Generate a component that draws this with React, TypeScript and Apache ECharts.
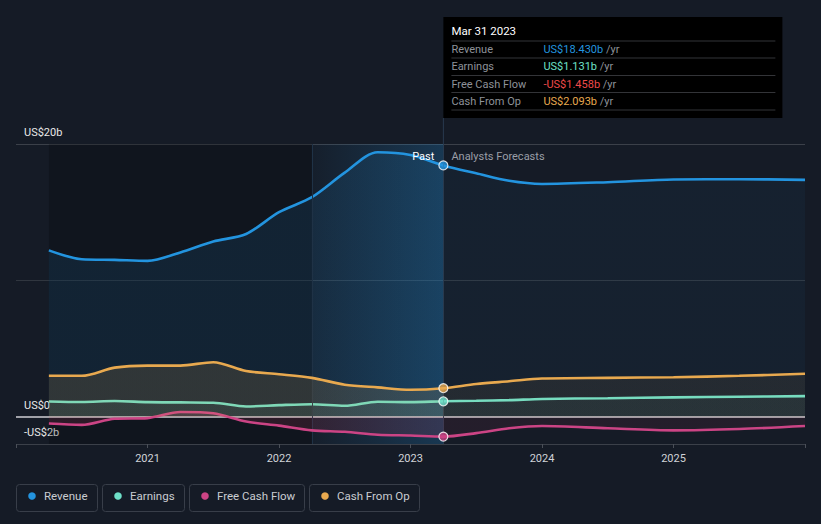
import React, { useEffect, useRef } from "react";
import * as echarts from "echarts";

const seriesNames = ["Revenue", "Earnings", "Free Cash Flow", "Cash From Op"];
const seriesColors = ["#2394df", "#6ee0c8", "#cc4485", "#e8a94f"];
const valueColors = ["#2394df", "#6ee0c8", "#ee4a4a", "#e8a94f"];

const pastDates = [2020.25, 2020.5, 2020.75, 2021.0, 2021.25, 2021.5, 2021.75, 2022.0, 2022.25, 2022.5, 2022.75, 2023.0, 2023.25];
const forecastDates = [2023.5, 2023.75, 2024.0, 2024.5, 2025.0, 2025.5, 2026.0];

const revenuePast = [12.2, 11.55, 11.5, 11.43, 12.05, 12.85, 13.4, 15.0, 16.1, 17.9, 19.4, 19.2, 18.43];
const revenueForecast = [17.85, 17.3, 17.07, 17.2, 17.4, 17.42, 17.37];
const earningsPast = [1.12, 1.08, 1.15, 1.07, 1.05, 1.03, 0.75, 0.85, 0.92, 0.8, 1.1, 1.07, 1.131];
const earningsForecast = [1.17, 1.22, 1.3, 1.36, 1.42, 1.47, 1.51];
const fcfPast = [-0.5, -0.6, -0.15, -0.1, 0.35, 0.25, -0.35, -0.65, -1.0, -1.1, -1.32, -1.38, -1.458];
const fcfForecast = [-1.2, -0.85, -0.68, -0.85, -1.0, -0.9, -0.68];
const cfoPast = [3.0, 3.0, 3.6, 3.75, 3.75, 4.0, 3.35, 3.12, 2.85, 2.35, 2.15, 1.98, 2.093];
const cfoForecast = [2.4, 2.6, 2.8, 2.85, 2.9, 3.0, 3.15];

const yTickLabels: Record<string, string> = { "20": "US$20b", "0": "US$0", "-2": "-US$2b" };
const xYears = [2021, 2022, 2023, 2024, 2025];
const nowLabel = "Mar 31 2023";
const highlightStart = 2022.25;

const pastSets = [revenuePast, earningsPast, fcfPast, cfoPast];
const forecastSets = [revenueForecast, earningsForecast, fcfForecast, cfoForecast];

function fmt(v: number) {
  return (v < 0 ? "-" : "") + "US$" + Math.abs(v).toFixed(3) + "b";
}

function hexA(hex: string, a: number) {
  const r = parseInt(hex.slice(1, 3), 16);
  const g = parseInt(hex.slice(3, 5), 16);
  const b = parseInt(hex.slice(5, 7), 16);
  return `rgba(${r},${g},${b},${a})`;
}

export default function App() {
  const ref = useRef<HTMLDivElement>(null);
  useEffect(() => {
    document.body.style.margin = "0";
    const chart = echarts.init(ref.current!, null, { renderer: "svg" });
    const nowT = pastDates[pastDates.length - 1];
    const allDates = pastDates.concat(forecastDates);
    const firstT = pastDates[0];
    const lastT = forecastDates[forecastDates.length - 1];
    const split = (nowT - firstT) / (lastT - firstT);

    const areaAlphas = [
      [0.16, 0.07],
      [0.1, 0.07],
      [0.22, 0.12],
      [0.2, 0.1],
    ];
    const areaBase = ["#2394df", "#6ee0c8", "#c8385f", "#e8a94f"];

    const splitColors = [
      "#3b4049", "rgba(0,0,0,0)", "rgba(0,0,0,0)", "rgba(0,0,0,0)", "rgba(0,0,0,0)", "rgba(0,0,0,0)",
      "#30363f", "rgba(0,0,0,0)", "rgba(0,0,0,0)", "rgba(0,0,0,0)", "rgba(0,0,0,0)", "#3b4049",
    ];

    const lineSeries: any[] = seriesNames.map((name, si) => {
      const vals = pastSets[si].concat(forecastSets[si]);
      const [pa, fa] = areaAlphas[si];
      const s: any = {
        name,
        type: "line",
        data: allDates.map((d, i) => [d, vals[i]]),
        smooth: 0.3,
        symbol: "none",
        lineStyle: { color: seriesColors[si], width: 2.6 },
        itemStyle: { color: seriesColors[si] },
        areaStyle: {
          origin: 0,
          color: new echarts.graphic.LinearGradient(0, 0, 1, 0, [
            { offset: 0, color: hexA(areaBase[si], pa) },
            { offset: split, color: hexA(areaBase[si], pa) },
            { offset: Math.min(split + 0.001, 1), color: hexA(areaBase[si], fa) },
            { offset: 1, color: hexA(areaBase[si], fa) },
          ]),
        },
        z: 3 + si,
      };
      if (si === 0) {
        s.markArea = {
          silent: true,
          data: [
            [{ xAxis: firstT, itemStyle: { color: "rgba(0,0,0,0.2)" } }, { xAxis: highlightStart }],
            [
              {
                xAxis: highlightStart,
                itemStyle: {
                  color: new echarts.graphic.LinearGradient(0, 0, 1, 0, [
                    { offset: 0, color: "rgba(35,148,223,0.03)" },
                    { offset: 1, color: "rgba(35,148,223,0.24)" },
                  ]),
                },
              },
              { xAxis: nowT },
            ],
          ],
        };
        s.markLine = {
          silent: true,
          symbol: ["none", "none"],
          label: { show: false },
          data: [
            { yAxis: 0, lineStyle: { color: "#cfcfd4", width: 1.5, type: "solid" } },
            { xAxis: highlightStart, lineStyle: { color: "#1f3246", width: 1, type: "solid" } },
            { xAxis: nowT, lineStyle: { color: "#283a4f", width: 1, type: "solid" } },
          ],
        };
      }
      return s;
    });

    const markerSeries = {
      type: "scatter",
      symbol: "circle",
      symbolSize: 9,
      z: 10,
      data: seriesNames.map((_, si) => ({
        value: [nowT, pastSets[si][pastSets[si].length - 1]],
        itemStyle: { color: seriesColors[si], borderColor: "#ffffff", borderWidth: 1.2 },
      })),
    };

    chart.setOption({
      animation: false,
      backgroundColor: "#151b26",
      textStyle: { fontFamily: "Roboto" },
      grid: { left: 16, right: 16, top: 144, bottom: 80 },
      xAxis: {
        type: "value",
        min: 2020,
        max: 2026,
        interval: 1,
        axisLine: { show: false, onZero: false },
        axisTick: { show: true, length: 4, lineStyle: { color: "#4a4f58" } },
        splitLine: { show: false },
        axisLabel: {
          color: "#d0d3d8",
          fontSize: 11,
          margin: 9,
          formatter: (v: number) => (xYears.indexOf(v) >= 0 ? String(v) : ""),
        },
      },
      yAxis: {
        type: "value",
        min: -2,
        max: 20,
        interval: 2,
        axisLine: { show: false },
        axisTick: { show: false },
        axisLabel: {
          inside: true,
          margin: 8,
          verticalAlign: "bottom",
          padding: [0, 0, 6, 0],
          color: "#e8e8e8",
          fontSize: 11,
          formatter: (v: number) => yTickLabels[String(v)] || "",
        },
        splitLine: { show: true, lineStyle: { color: splitColors, width: 1 } },
      },
      series: [...lineSeries, markerSeries],
    });

    const nx = chart.convertToPixel({ xAxisIndex: 0 }, nowT) as number;
    const gridTop = 144;
    const tipX = nx;
    const tipY = 17;
    const tipW = 339;
    const tipH = 101;
    const rowYs = [49, 66, 84, 101];
    const sepYs = [41, 58, 75.5, 92.5, 110];

    const legendBoxes = [
      { x: 16, w: 81 },
      { x: 102, w: 82 },
      { x: 189, w: 115 },
      { x: 309, w: 110 },
    ];

    const graphic: any[] = [
      {
        type: "line",
        shape: { x1: nx, y1: tipY + tipH, x2: nx, y2: gridTop },
        style: { stroke: "#283a4f", lineWidth: 1 },
        silent: true,
      },
      {
        type: "text",
        style: { text: "Past", x: nx - 9, y: 156, align: "right", verticalAlign: "middle", fill: "#ffffff", font: "11px Roboto" },
        silent: true,
        z: 20,
      },
      {
        type: "text",
        style: { text: "Analysts Forecasts", x: nx + 8, y: 156, align: "left", verticalAlign: "middle", fill: "#9a9ea6", font: "11px Roboto" },
        silent: true,
        z: 20,
      },
      {
        type: "rect",
        shape: { x: tipX, y: tipY, width: tipW, height: tipH },
        style: { fill: "#000000" },
        z: 30,
        silent: true,
      },
      {
        type: "text",
        style: { text: nowLabel, x: tipX + 8, y: 31, verticalAlign: "middle", fill: "#ffffff", font: "11.5px Roboto" },
        z: 31,
        silent: true,
      },
    ];
    sepYs.forEach((y) => {
      graphic.push({
        type: "line",
        shape: { x1: tipX + 8, y1: y, x2: tipX + tipW - 7, y2: y },
        style: { stroke: "#333438", lineWidth: 1 },
        z: 31,
        silent: true,
      });
    });
    seriesNames.forEach((name, si) => {
      const v = pastSets[si][pastSets[si].length - 1];
      graphic.push({
        type: "text",
        style: { text: name, x: tipX + 8, y: rowYs[si], verticalAlign: "middle", fill: "#8e9299", font: "11px Roboto" },
        z: 31,
        silent: true,
      });
      graphic.push({
        type: "text",
        style: {
          text: `{v|${fmt(v)}} {u|/yr}`,
          x: tipX + 100,
          y: rowYs[si],
          verticalAlign: "middle",
          font: "11px Roboto",
          rich: {
            v: { fill: valueColors[si], font: "11px Roboto" },
            u: { fill: "#8e9299", font: "11px Roboto" },
          },
        },
        z: 31,
        silent: true,
      });
    });
    seriesNames.forEach((name, si) => {
      const b = legendBoxes[si];
      graphic.push({
        type: "rect",
        shape: { x: b.x + 0.5, y: 484.5, width: b.w, height: 27, r: 3 },
        style: { fill: "rgba(0,0,0,0)", stroke: "#383e49", lineWidth: 1 },
        silent: true,
      });
      graphic.push({
        type: "circle",
        shape: { cx: b.x + 16, cy: 496, r: 3.8 },
        style: { fill: seriesColors[si] },
        silent: true,
      });
      graphic.push({
        type: "text",
        style: { text: name, x: b.x + 28, y: 496, verticalAlign: "middle", fill: "#c9ccd1", font: "11.5px Roboto" },
        silent: true,
      });
    });

    chart.setOption({ graphic });

    return () => chart.dispose();
  }, []);

  return <div ref={ref} style={{ width: 821, height: 524 }} />;
}
